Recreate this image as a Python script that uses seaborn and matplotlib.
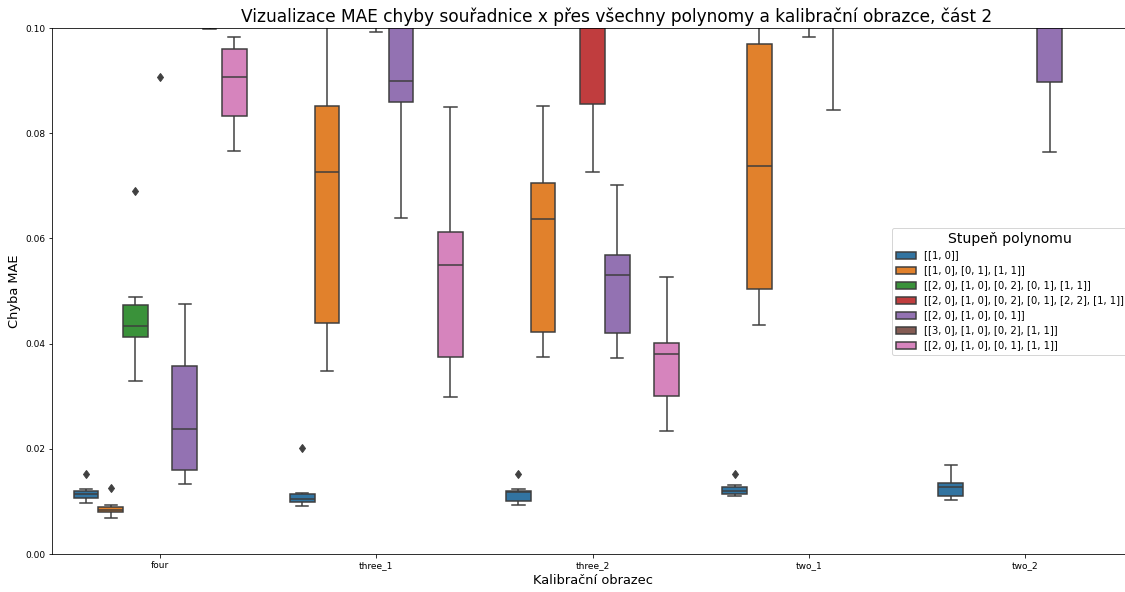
import numpy as np
import pandas as pd
import seaborn as sns
import matplotlib.pyplot as plt

# Kalibracni obrazce (osa x) a stupne polynomu (hue)
obrazce = ["four", "three_1", "three_2", "two_1", "two_2"]
polynomy = [
    "[[1, 0]]",
    "[[1, 0], [0, 1], [1, 1]]",
    "[[2, 0], [1, 0], [0, 2], [0, 1], [1, 1]]",
    "[[2, 0], [1, 0], [0, 2], [0, 1], [2, 2], [1, 1]]",
    "[[2, 0], [1, 0], [0, 1]]",
    "[[3, 0], [1, 0], [0, 2], [1, 1]]",
    "[[2, 0], [1, 0], [0, 1], [1, 1]]",
]

# MAE hodnoty, jeden seznam mereni na kazdy obrazec (poradi jako obrazce)
mae_p1 = [
    [0.00976, 0.0102, 0.01059, 0.0110, 0.01135, 0.0117, 0.01203, 0.01236, 0.01521],
    [0.0092, 0.0096, 0.00995, 0.0102, 0.0104, 0.0110, 0.01147, 0.01166, 0.0201],
    [0.0094, 0.0098, 0.0101, 0.0110, 0.0117, 0.0119, 0.0120, 0.01236, 0.0153],
    [0.0110, 0.0112, 0.01135, 0.0118, 0.0120, 0.0124, 0.01268, 0.01306, 0.0152],
    [0.0103, 0.0106, 0.0110, 0.0120, 0.0128, 0.0132, 0.0135, 0.0150, 0.0169],
]
mae_p2 = [
    [0.00684, 0.0075, 0.00792, 0.0082, 0.00843, 0.0086, 0.00887, 0.00938, 0.0126],
    [0.0348, 0.0400, 0.0440, 0.0610, 0.0726, 0.0790, 0.0852, 0.0960, 0.1120],
    [0.0375, 0.0400, 0.0423, 0.0560, 0.0636, 0.0680, 0.0705, 0.0780, 0.0851],
    [0.0435, 0.0470, 0.0503, 0.0650, 0.0738, 0.0850, 0.0969, 0.1050, 0.1180],
    [0.104, 0.108, 0.112, 0.116, 0.120, 0.124, 0.128, 0.132, 0.136],
]
mae_p3 = [
    [0.0328, 0.0395, 0.0413, 0.0425, 0.0433, 0.0455, 0.0473, 0.0489, 0.0690],
    [0.112, 0.118, 0.124, 0.130, 0.136, 0.142, 0.148, 0.154, 0.160],
    [0.108, 0.113, 0.118, 0.123, 0.128, 0.133, 0.138, 0.143, 0.148],
    [0.115, 0.120, 0.126, 0.131, 0.137, 0.142, 0.148, 0.153, 0.159],
    [0.120, 0.126, 0.132, 0.138, 0.144, 0.150, 0.156, 0.162, 0.168],
]
mae_p4 = [
    [0.0907, 0.105, 0.112, 0.115, 0.118, 0.121, 0.124, 0.128, 0.131],
    [0.0992, 0.104, 0.110, 0.114, 0.118, 0.122, 0.126, 0.130, 0.134],
    [0.0726, 0.080, 0.0856, 0.095, 0.102, 0.107, 0.112, 0.118, 0.124],
    [0.0983, 0.103, 0.108, 0.112, 0.116, 0.120, 0.124, 0.128, 0.132],
    [0.110, 0.115, 0.120, 0.125, 0.130, 0.135, 0.140, 0.145, 0.150],
]
mae_p5 = [
    [0.0133, 0.0145, 0.0160, 0.0200, 0.0238, 0.0300, 0.0357, 0.0420, 0.0475],
    [0.0639, 0.0780, 0.0860, 0.0880, 0.0900, 0.0960, 0.1040, 0.1100, 0.1150],
    [0.0373, 0.0400, 0.0421, 0.0490, 0.0530, 0.0550, 0.0568, 0.0640, 0.0702],
    [0.0844, 0.095, 0.103, 0.107, 0.110, 0.115, 0.120, 0.126, 0.132],
    [0.0764, 0.084, 0.0897, 0.097, 0.104, 0.108, 0.112, 0.118, 0.124],
]
mae_p6 = [
    [0.0998, 0.106, 0.112, 0.116, 0.120, 0.124, 0.128, 0.133, 0.138],
    [0.114, 0.119, 0.124, 0.129, 0.134, 0.139, 0.144, 0.149, 0.154],
    [0.110, 0.115, 0.121, 0.126, 0.131, 0.136, 0.142, 0.147, 0.152],
    [0.118, 0.123, 0.128, 0.133, 0.138, 0.143, 0.148, 0.153, 0.158],
    [0.121, 0.127, 0.133, 0.139, 0.145, 0.151, 0.157, 0.163, 0.169],
]
mae_p7 = [
    [0.0766, 0.0800, 0.0832, 0.0870, 0.0907, 0.0940, 0.0961, 0.0975, 0.0983],
    [0.0298, 0.0340, 0.0375, 0.0500, 0.0549, 0.0590, 0.0612, 0.0720, 0.0850],
    [0.0234, 0.0270, 0.0301, 0.0350, 0.0380, 0.0390, 0.0401, 0.0460, 0.0527],
    [0.109, 0.114, 0.119, 0.124, 0.129, 0.134, 0.139, 0.144, 0.149],
    [0.113, 0.118, 0.123, 0.128, 0.133, 0.138, 0.143, 0.148, 0.153],
]

# long-form tabulka pro seaborn
rows = []
for poly, vals in zip(polynomy, [mae_p1, mae_p2, mae_p3, mae_p4, mae_p5, mae_p6, mae_p7]):
    for obr, samples in zip(obrazce, vals):
        for v in samples:
            rows.append({"obrazec": obr, "polynom": poly, "mae": v})
df = pd.DataFrame(rows)

fig = plt.figure(figsize=(1125 / 72, 592 / 72), dpi=72)
ax = fig.add_axes([52 / 1125, 1 - 554 / 592, (1133 - 52) / 1125, (554 - 28) / 592])

sns.boxplot(data=df, x="obrazec", y="mae", hue="polynom", order=obrazce,
            hue_order=polynomy, palette="tab10", linewidth=1.5, ax=ax,
            flierprops=dict(marker="d", markersize=6,
                            markerfacecolor="0.25", markeredgecolor="0.25"))

ax.set_ylim(0, 0.1)
ax.set_title("Vizualizace MAE chyby souřadnice x přes všechny polynomy a kalibrační obrazce, část 2",
             fontsize=17, x=0.5227)
ax.set_xlabel("Kalibrační obrazec", fontsize=13)
ax.set_ylabel("Chyba MAE", fontsize=13)
ax.tick_params(labelsize=9)
sns.move_legend(ax, "center right", title="Stupeň polynomu", fontsize=10, title_fontsize=14)

fig.savefig("out.png", dpi=72)
